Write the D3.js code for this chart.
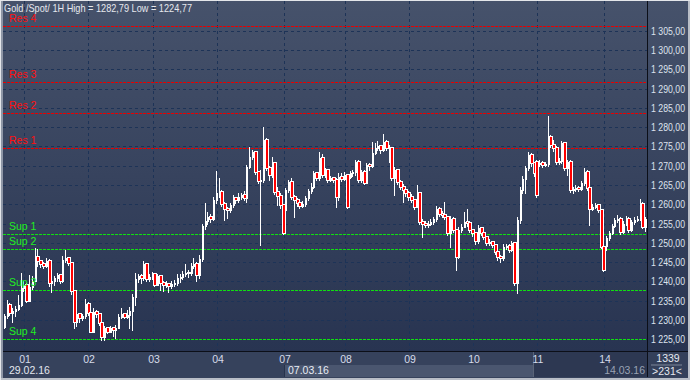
<!DOCTYPE html>
<html><head><meta charset="utf-8">
<script src="https://cdn.jsdelivr.net/npm/d3@7"></script>
<style>html,body{margin:0;padding:0;background:#c4c8d0;overflow:hidden}svg{display:block}</style>
</head><body><svg id="c" width="690" height="380"></svg>
<script>
const title = "Gold /Spot/ 1H High = 1282,79 Low = 1224,77";
const closes = [
1231.0,1234.0,1231.7,1232.3,1232.8,1234.0,1238.4,1239.2,1235.0,1238.5,
1240.2,1246.4,1245.2,1244.6,1244.0,1245.3,1239.6,1240.0,1240.8,1241.6,
1240.0,1245.5,1246.2,1244.8,1237.4,1229.4,1231.6,1230.6,1231.0,1234.2,
1231.8,1227.0,1232.2,1231.6,1229.1,1225.5,1227.8,1227.0,1227.8,1227.3,
1228.0,1230.9,1231.5,1230.9,1231.3,1232.4,1236.0,1240.6,1241.5,1240.8,
1244.4,1240.6,1241.2,1241.8,1239.2,1241.4,1239.6,1239.0,1239.3,1238.8,
1239.3,1239.6,1241.0,1241.2,1241.8,1242.3,1242.2,1244.0,1244.6,1241.6,
1245.9,1254.3,1255.6,1256.7,1256.3,1261.1,1262.8,1263.3,1260.2,1258.9,
1258.5,1259.8,1261.6,1261.1,1262.0,1262.4,1261.6,1269.7,1272.3,1273.6,
1268.4,1266.0,1266.2,1276.7,1269.3,1267.6,1270.6,1263.3,1262.2,1259.8,
1252.5,1263.7,1265.8,1262.0,1261.2,1260.3,1259.6,1260.0,1261.6,1263.5,
1264.5,1268.0,1266.8,1271.9,1267.6,1268.8,1266.3,1266.7,1266.4,1261.8,
1267.2,1266.5,1267.6,1259.4,1268.0,1268.3,1271.0,1266.3,1268.4,1265.6,
1270.2,1269.8,1273.2,1274.7,1275.0,1274.1,1276.2,1274.5,1274.6,1266.7,
1268.8,1265.8,1264.6,1263.7,1262.8,1262.0,1261.1,1259.4,1262.8,1255.5,
1255.0,1254.6,1255.0,1255.5,1256.1,1258.9,1257.6,1257.2,1256.8,1252.5,
1256.3,1253.3,1246.4,1253.3,1254.2,1255.5,1255.1,1253.3,1252.5,1250.4,
1253.8,1252.5,1251.6,1249.9,1250.3,1249.5,1247.7,1246.4,1246.0,1249.0,
1249.2,1248.1,1249.9,1239.5,1255.9,1263.7,1266.5,1269.3,1272.8,1270.6,
1268.0,1262.4,1270.8,1270.2,1270.4,1277.5,1275.4,1274.5,1271.0,1271.2,
1275.8,1269.3,1271.0,1263.7,1263.9,1264.2,1264.0,1265.4,1268.4,1264.1,
1258.9,1259.4,1259.8,1258.5,1249.0,1242.9,1251.2,1252.6,1254.5,1255.9,
1256.3,1252.9,1255.0,1256.3,1253.3,1255.4,1256.0,1256.3,1260.2,1254.2,
1256.3];
const highs = [
1231.6,1235.2,1234.4,1233.0,1233.6,1236.5,1242.2,1240.0,1239.6,1241.6,
1241.3,1248.6,1248.5,1245.6,1245.0,1246.0,1245.7,1240.5,1241.4,1242.2,
1241.8,1246.6,1248.2,1246.3,1245.0,1237.6,1232.3,1231.8,1231.6,1235.4,
1234.6,1232.2,1233.2,1232.6,1231.8,1229.3,1228.5,1228.3,1228.4,1228.2,
1228.6,1231.6,1233.0,1231.9,1232.6,1233.4,1236.8,1242.1,1242.0,1241.8,
1245.2,1244.6,1242.0,1242.4,1242.0,1242.0,1241.6,1240.2,1240.0,1239.6,
1240.0,1240.4,1241.8,1242.0,1242.6,1244.5,1243.0,1244.8,1246.0,1245.0,
1246.8,1255.0,1260.3,1258.0,1257.6,1261.8,1268.5,1266.7,1263.6,1260.6,
1259.4,1260.4,1262.4,1262.0,1262.8,1263.0,1263.5,1270.3,1274.9,1274.2,
1273.9,1268.6,1269.0,1280.1,1277.2,1269.8,1272.2,1271.0,1264.4,1262.8,
1260.2,1264.2,1266.3,1266.8,1262.4,1261.6,1260.6,1260.8,1262.2,1264.0,
1265.6,1268.6,1268.4,1273.6,1273.0,1269.5,1269.0,1267.4,1267.0,1266.7,
1268.0,1268.0,1268.4,1267.8,1268.6,1268.8,1271.6,1271.4,1269.0,1268.8,
1270.8,1270.6,1276.2,1276.0,1276.4,1275.4,1278.2,1276.6,1275.4,1274.8,
1269.6,1269.2,1266.2,1265.2,1264.0,1263.4,1262.6,1261.4,1264.9,1263.0,
1256.2,1255.6,1255.6,1256.2,1256.8,1259.6,1259.2,1258.2,1260.7,1257.0,
1257.0,1256.6,1253.6,1254.0,1255.0,1258.0,1258.9,1255.4,1253.6,1252.8,
1254.6,1254.2,1252.8,1251.8,1251.0,1250.6,1249.8,1248.0,1246.8,1249.6,
1249.8,1249.6,1250.6,1250.2,1256.6,1264.4,1267.4,1270.0,1273.6,1273.2,
1271.0,1271.4,1271.4,1271.2,1271.0,1282.79,1278.0,1276.6,1275.0,1272.0,
1276.4,1276.0,1271.6,1271.4,1264.6,1265.0,1264.8,1266.0,1269.3,1268.8,
1264.4,1260.0,1260.4,1260.0,1258.9,1249.4,1251.8,1253.2,1255.0,1256.4,
1257.2,1256.8,1255.6,1257.0,1256.6,1256.0,1256.6,1257.0,1261.3,1260.6,
1256.8];
const lows = [
1227.8,1230.6,1231.2,1229.5,1231.0,1232.5,1233.6,1237.5,1234.6,1234.8,
1238.0,1240.0,1244.0,1243.8,1243.6,1243.8,1238.8,1237.3,1239.0,1240.2,
1239.6,1239.8,1245.0,1244.3,1236.8,1227.9,1228.5,1229.6,1230.0,1230.6,
1231.2,1226.8,1226.8,1230.8,1228.6,1224.9,1224.77,1226.6,1226.8,1225.8,
1225.4,1227.8,1230.6,1230.4,1230.6,1228.0,1227.4,1234.0,1239.8,1239.6,
1240.5,1240.2,1240.0,1240.6,1238.8,1239.0,1237.8,1237.5,1238.6,1237.3,
1238.4,1238.8,1239.2,1239.8,1240.6,1241.4,1241.2,1241.6,1243.6,1240.0,
1240.8,1245.4,1253.5,1254.8,1255.4,1255.8,1260.4,1262.0,1259.6,1256.0,
1256.4,1258.0,1259.2,1260.4,1260.6,1261.4,1261.0,1260.5,1269.4,1271.8,
1267.8,1265.4,1249.4,1265.8,1268.8,1266.4,1267.0,1262.6,1259.8,1259.0,
1252.2,1258.2,1263.2,1261.4,1256.8,1259.6,1259.0,1259.2,1259.6,1261.2,
1263.0,1264.2,1266.2,1266.4,1267.0,1267.2,1265.8,1266.0,1265.8,1259.4,
1261.2,1266.0,1266.2,1259.0,1266.8,1267.4,1267.6,1265.8,1265.8,1265.2,
1265.4,1269.0,1269.6,1273.0,1274.2,1273.2,1273.8,1274.0,1271.0,1266.2,
1262.4,1265.2,1264.0,1260.7,1262.2,1261.2,1260.6,1258.8,1259.2,1255.0,
1251.6,1254.0,1254.2,1254.6,1255.0,1255.6,1257.0,1256.6,1256.2,1252.0,
1249.0,1252.8,1242.9,1246.0,1252.8,1254.0,1254.4,1252.8,1251.8,1249.8,
1250.0,1252.0,1251.0,1249.4,1249.4,1248.8,1247.2,1245.6,1245.0,1245.6,
1248.4,1247.6,1247.8,1239.0,1236.9,1255.2,1263.0,1262.8,1268.8,1270.0,
1267.4,1262.0,1269.8,1269.6,1269.8,1269.8,1274.8,1273.8,1270.4,1270.4,
1270.6,1268.8,1267.6,1263.2,1263.0,1263.4,1263.4,1263.6,1265.0,1263.6,
1254.6,1258.4,1259.0,1258.0,1248.6,1242.6,1248.2,1250.8,1252.2,1254.0,
1255.4,1252.4,1252.6,1254.6,1252.8,1253.0,1255.0,1255.6,1255.8,1253.8,
1253.0];
const firstOpen = 1228.3;
const gapOpenIdx = [101, 124, 191, 192, 216];
const gapOpenVal = [1258.6, 1267.2, 1271.0, 1270.4, 1249.2];
const dayLabels = ["01","02","03","04","07","08","09","10","11","14"];
const dayStart = [8, 31, 54, 77, 101, 123, 146, 169, 192, 216];
const yTicks = [1225,1230,1235,1240,1245,1250,1255,1260,1265,1270,1275,1280,1285,1290,1295,1300,1305];
const resNames = ["Res 1","Res 2","Res 3","Res 4"];
const resLevels = [1274.5, 1283.6, 1291.6, 1306.2];
const supNames = ["Sup 1","Sup 2","Sup 3","Sup 4"];
const supLevels = [1252.2, 1248.3, 1237.7, 1225.0];
const dateLabels = ["29.02.16", "07.03.16", "14.03.16"];
const cornerTexts = ["1339", ">231<"];

const svg = d3.select("#c");
const W = 690, H = 380;
const PL = 3, PR = 647, PT = 1, PB = 351;
const FONT = "'Liberation Sans', Arial, sans-serif";

const bars = closes.map((c, i) => {
  const gi = gapOpenIdx.indexOf(i);
  const o = i === 0 ? firstOpen : (gi >= 0 ? gapOpenVal[gi] : closes[i - 1]);
  return {i, o, c, h: Math.max(highs[i], o, c), l: Math.min(lows[i], o, c)};
});

const x = d3.scaleBand().domain(d3.range(closes.length)).range([PL, PR]).padding(0);
const y = d3.scaleLinear().domain([1225, 1305]).range([339.3, 30.7]);

const defs = svg.append("defs");
const g1 = defs.append("linearGradient").attr("id","bg").attr("x1",0).attr("y1",0).attr("x2",0).attr("y2",1);
g1.append("stop").attr("offset","0%").attr("stop-color","#46526b");
g1.append("stop").attr("offset","100%").attr("stop-color","#283451");
const clip = defs.append("clipPath").attr("id","plotclip");
clip.append("rect").attr("x",PL).attr("y",PT).attr("width",PR-PL).attr("height",PB-PT);

// frame
svg.append("rect").attr("width",W).attr("height",H).attr("fill","#b9bec7");
svg.append("rect").attr("x",0).attr("y",0).attr("width",1).attr("height",H).attr("fill","#e4e6ea");
svg.append("rect").attr("x",0).attr("y",0).attr("width",W).attr("height",1).attr("fill","#e4e6ea");
// plot + right panel backgrounds
svg.append("rect").attr("x",PL).attr("y",PT).attr("width",PR-PL).attr("height",PB-PT).attr("fill","url(#bg)");
svg.append("rect").attr("x",PR+1).attr("y",PT).attr("width",688-PR-1).attr("height",PB-PT).attr("fill","url(#bg)");
// bottom axis area
svg.append("rect").attr("x",PL).attr("y",PB+1).attr("width",688-PL).attr("height",26).attr("fill","#36425c");
svg.append("rect").attr("x",x(dayStart[4])).attr("y",365).attr("width",533-x(dayStart[4])).attr("height",12).attr("fill","#4a566f");
svg.append("rect").attr("x",533).attr("y",PB+1).attr("width",PR-533).attr("height",25).attr("fill","#2d3852");
svg.append("line").attr("x1",533.5).attr("x2",533.5).attr("y1",PB+1).attr("y2",377).attr("stroke","#5a6478");
svg.append("line").attr("x1",284.5).attr("x2",284.5).attr("y1",365).attr("y2",377).attr("stroke","#26324c");
svg.append("rect").attr("x",PR+1).attr("y",PB+1).attr("width",688-PR-1).attr("height",25).attr("fill","#34405a");

const plot = svg.append("g").attr("clip-path","url(#plotclip)");

// grid
plot.selectAll(".hg").data(yTicks).join("line")
  .attr("x1",PL).attr("x2",PR)
  .attr("y1",d=>Math.round(y(d))+0.5).attr("y2",d=>Math.round(y(d))+0.5)
  .attr("stroke","#1d3357").attr("stroke-dasharray","3,3");
plot.selectAll(".vg").data(dayStart).join("line")
  .attr("x1",d=>Math.round(x(d))-0.5).attr("x2",d=>Math.round(x(d))-0.5)
  .attr("y1",PT).attr("y2",PB)
  .attr("stroke","#1d3357").attr("stroke-dasharray","3,3");

// level lines
const levels = resLevels.map((v,k)=>({v, name:resNames[k], col:"#e80000", tcol:"#ff1010"}))
  .concat(supLevels.map((v,k)=>({v, name:supNames[k], col:"#10e010", tcol:"#22ee22"})));
plot.selectAll(".lv").data(levels).join("line")
  .attr("x1",PL).attr("x2",PR)
  .attr("y1",d=>Math.round(y(d.v))+0.5).attr("y2",d=>Math.round(y(d.v))+0.5)
  .attr("stroke",d=>d.col).attr("stroke-dasharray","3,1");

// candles
const cg = plot.append("g").attr("shape-rendering","crispEdges");
bars.forEach(b => {
  const cx = Math.floor(x(b.i) + x.bandwidth()/2);
  const yh = Math.round(y(b.h)), yl = Math.round(y(b.l));
  const yt = Math.round(y(Math.max(b.o,b.c))), yb = Math.round(y(Math.min(b.o,b.c)));
  cg.append("rect").attr("x",cx).attr("y",yh).attr("width",1).attr("height",Math.max(1,yl-yh+1)).attr("fill","#ffffff");
  if (b.c >= b.o) {
    cg.append("rect").attr("x",cx).attr("y",yt).attr("width",2).attr("height",Math.max(1,yb-yt+1)).attr("fill","#ffffff");
  } else {
    cg.append("rect").attr("x",cx-1).attr("y",yt-1).attr("width",4).attr("height",Math.max(2,yb-yt+2)).attr("fill","#ffffff");
    if (yb - yt >= 1) cg.append("rect").attr("x",cx).attr("y",yt).attr("width",2).attr("height",yb-yt).attr("fill","#ff0000");
  }
});

// level labels
plot.selectAll(".lt").data(levels).join("text")
  .attr("x",9).attr("y",d=>Math.round(y(d.v))-4)
  .attr("fill",d=>d.tcol).attr("font-family",FONT).attr("font-size","10.5px")
  .text(d=>d.name);

// title
svg.append("text").attr("x",4).attr("y",11.5).attr("fill","#e6e8ee")
  .attr("font-family",FONT).attr("font-size","11px")
  .attr("textLength",188).attr("lengthAdjust","spacingAndGlyphs").text(title);

// borders
svg.append("line").attr("x1",PR+0.5).attr("x2",PR+0.5).attr("y1",PT).attr("y2",377).attr("stroke","#0c0f18");
svg.append("line").attr("x1",PL).attr("x2",688).attr("y1",PB+0.5).attr("y2",PB+0.5).attr("stroke","#0c0f18");
svg.append("rect").attr("x",1).attr("y",1).attr("width",2).attr("height",377).attr("fill","#8e96a6");

// right axis
const loc = d3.formatLocale({decimal:",", thousands:"\u00a0", grouping:[3], currency:["",""]});
const fmt = loc.format(",.2f");
const yAxis = d3.axisRight(y).tickValues(yTicks).tickSize(0).tickPadding(0).tickFormat(fmt);
const ya = svg.append("g").attr("transform",`translate(651,0)`).call(yAxis);
ya.select(".domain").remove();
ya.selectAll("text").attr("fill","#dde3ee").attr("font-family",FONT).attr("font-size","10px")
  .attr("dy","0.35em").attr("textLength",34).attr("lengthAdjust","spacingAndGlyphs");

// bottom axis
const xa = svg.append("g").attr("transform",`translate(0,${PB+1})`)
  .call(d3.axisBottom(x).tickValues(dayStart).tickSize(0).tickPadding(0).tickFormat((d,k)=>dayLabels[dayStart.indexOf(d)]));
xa.select(".domain").remove();
xa.selectAll(".tick").attr("transform",d=>`translate(${Math.round(x(d))},0)`);
xa.selectAll("text").attr("fill","#d6dcea").attr("font-family",FONT).attr("font-size","10.5px")
  .attr("y",10.7).attr("dy",0);

svg.append("text").attr("x",9).attr("y",374).attr("fill","#e2e6ee").attr("font-family",FONT).attr("font-size","10.5px").text(dateLabels[0]);
svg.append("text").attr("x",288).attr("y",374).attr("fill","#e8ecf4").attr("font-family",FONT).attr("font-size","10.5px").text(dateLabels[1]);
svg.append("text").attr("x",645).attr("y",373.5).attr("text-anchor","end").attr("fill","#98a2b4").attr("font-family",FONT).attr("font-size","10.5px").text(dateLabels[2]);

svg.append("text").attr("x",668).attr("y",362).attr("text-anchor","middle").attr("fill","#e4e8f0").attr("font-family",FONT).attr("font-size","10.5px").text(cornerTexts[0]);
svg.append("line").attr("x1",651).attr("x2",682).attr("y1",365).attr("y2",365).attr("stroke","#7c8698");
svg.append("text").attr("x",667).attr("y",374.5).attr("text-anchor","middle").attr("fill","#e4e8f0").attr("font-family",FONT).attr("font-size","10.5px").text(cornerTexts[1]);
</script></body></html>
